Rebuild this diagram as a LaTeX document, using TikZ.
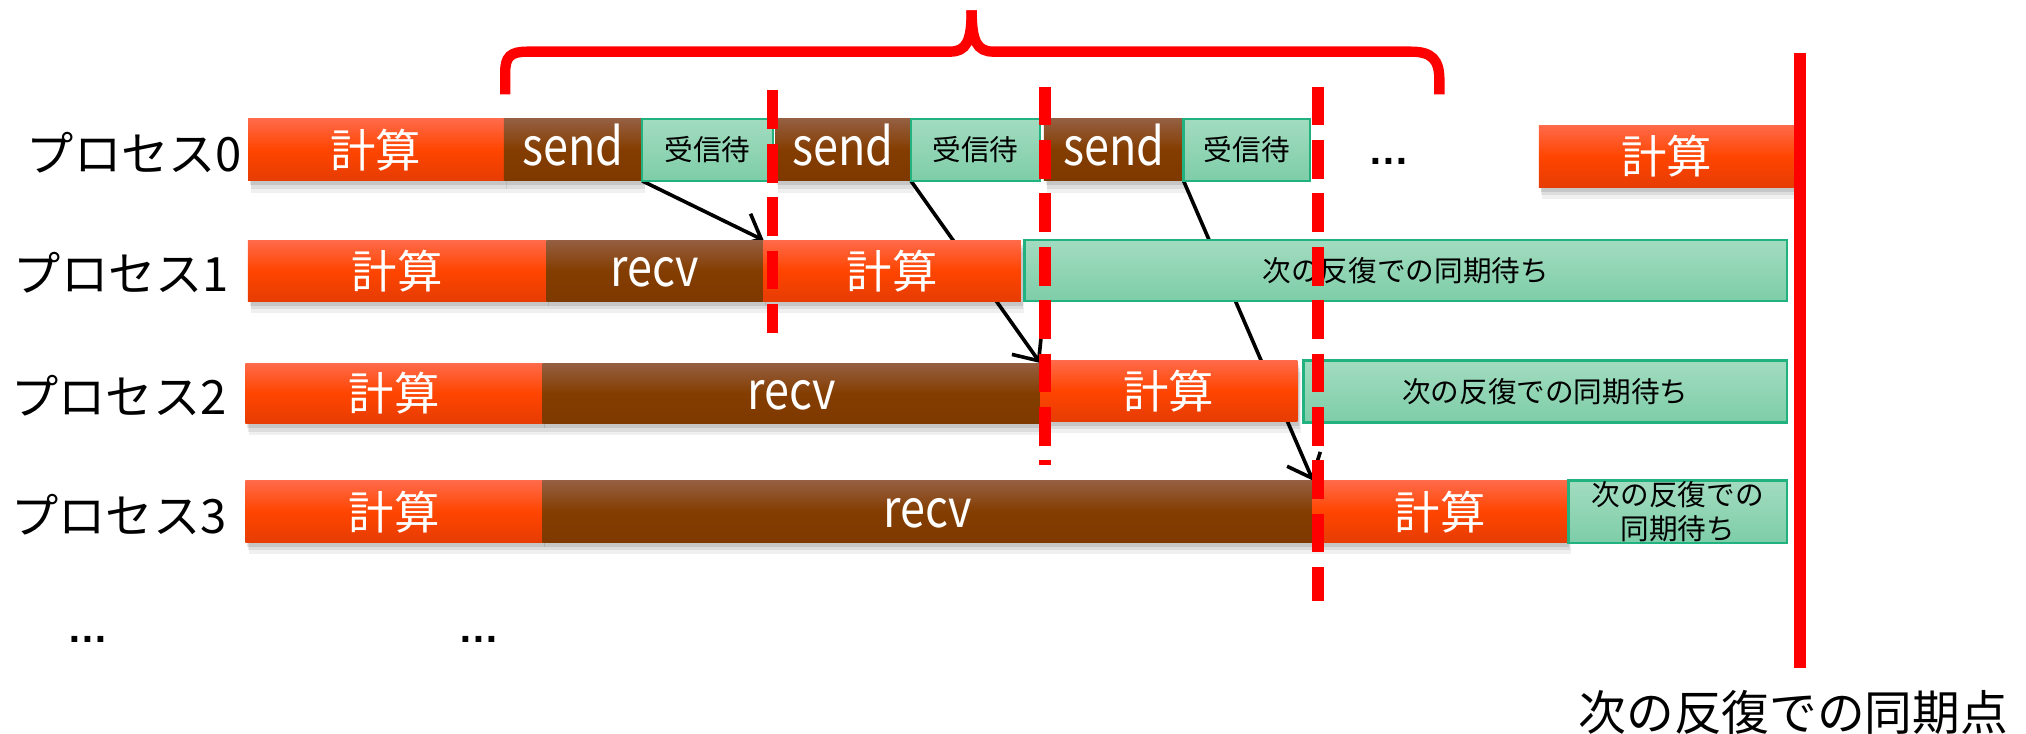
\documentclass[tikz,border=0pt]{standalone}
\usepackage{graphicx}
\usepackage{fontspec}
\setmainfont{Noto Sans CJK JP}
\newfontfamily\latfont{Liberation Sans}
\usetikzlibrary{arrows.meta,shadows}
\pgfdeclarelayer{bg}
\pgfdeclarelayer{msgs}
\pgfsetlayers{bg,msgs,main}
\definecolor{orT}{HTML}{FF6A4A}
\definecolor{orM}{HTML}{FF4500}
\definecolor{orB}{HTML}{E63C04}
\definecolor{brT}{HTML}{955F42}
\definecolor{brM}{HTML}{843D00}
\definecolor{brB}{HTML}{7E3900}
\definecolor{grT}{HTML}{A2DCC0}
\definecolor{grB}{HTML}{7ECDA8}
\definecolor{grD}{HTML}{22B27F}
\definecolor{barred}{HTML}{FF0000}
\newcommand\condtxt[1]{\scalebox{0.86}[1]{#1}}
\tikzset{
  base/.style={rectangle, inner sep=0pt, outer sep=0pt},
  boxshadow/.style={
    drop shadow={shadow xshift=0.25mm, shadow yshift=-0.9mm, opacity=0.06, fill=black},
    drop shadow={shadow xshift=0.2mm, shadow yshift=-0.6mm, opacity=0.08, fill=black},
    drop shadow={shadow xshift=0.15mm, shadow yshift=-0.35mm, opacity=0.10, fill=black}},
  calcbox/.style={base, boxshadow, top color=orT, bottom color=orB, middle color=orM, text=white, font=\fontsize{10}{12}\selectfont},
  commbox/.style={base, boxshadow, top color=brT, bottom color=brB, middle color=brM, text=white, font=\fontsize{11.5}{13}\selectfont, text height=7pt, text depth=0pt},
  waitbox/.style={base, top color=grT, bottom color=grB, draw=grD, line width=0.5pt, text=black, font=\fontsize{6.3}{7.7}\selectfont, align=center},
  plabel/.style={anchor=east, inner sep=0pt, font=\fontsize{10.4}{12}\selectfont},
  dotstext/.style={inner sep=0pt, font=\latfont\bfseries\fontsize{9}{10}\selectfont},
  msg/.style={line width=0.28mm, -{Straight Barb[length=1.6mm,width=2.8mm]}},
  barrier/.style={barred, line width=0.9mm, dash pattern=on 3mm off 1.13mm},
  syncline/.style={barred, line width=0.9mm},
  bracket/.style={barred, line width=0.8mm},
}
\newcommand\procbox[7]{\node[#2, minimum width={(#4-#3)*0.1mm}, minimum height={(#6-#5)*0.1mm}] (#1) at ({(#3+#4)/2},{(#5+#6)/2}) {#7};}
\begin{document}
\begin{tikzpicture}[x=0.01cm,y=-0.01cm]
\begin{pgfonlayer}{bg}
\fill[white] (0,0) rectangle (1568,568);
\end{pgfonlayer}
\useasboundingbox (0,0) rectangle (1568,568);

% labels
\node[plabel] (l0) at (188,118) {プロセス0};
\node[plabel] (l1) at (178,211) {プロセス1};
\node[plabel] (l2) at (176,306) {プロセス2};
\node[plabel] (l3) at (176,398) {プロセス3};
\node[dotstext] (ldots) at (68,495) {…};
\node[dotstext] (bdots) at (371,495) {…};

% row 0
\procbox{r0c}{calcbox}{192}{390}{92}{140}{計算}
\procbox{r0s1}{commbox}{390}{497}{92}{140}{\condtxt{send}}
\procbox{r0w1}{waitbox}{497}{598}{92}{140}{受信待}
\procbox{r0s2}{commbox}{600}{705}{92}{140}{\condtxt{send}}
\procbox{r0w2}{waitbox}{705}{805}{92}{140}{受信待}
\procbox{r0s3}{commbox}{808}{916}{92}{140}{\condtxt{send}}
\procbox{r0w3}{waitbox}{916}{1014}{92}{140}{受信待}
\node[dotstext] (r0dots) at (1075,125) {…};
\procbox{r0c2}{calcbox}{1191}{1389}{97}{145}{計算}

% row 1
\procbox{r1c}{calcbox}{192}{423}{186}{233}{計算}
\procbox{r1r}{commbox}{423}{591}{186}{233}{\condtxt{recv}}
\procbox{r1c2}{calcbox}{591}{790}{186}{233}{計算}
\procbox{r1w}{waitbox}{793}{1383}{186}{233}{次の反復での同期待ち}

% row 2
\procbox{r2c}{calcbox}{190}{420}{281}{328}{計算}
\procbox{r2r}{commbox}{420}{805}{281}{328}{\condtxt{recv}}
\procbox{r2c2}{calcbox}{805}{1004}{279}{326}{計算}
\procbox{r2w}{waitbox}{1009}{1383}{279}{327}{次の反復での同期待ち}

% row 3
\procbox{r3c}{calcbox}{190}{420}{372}{420}{計算}
\procbox{r3r}{commbox}{420}{1016}{372}{420}{\condtxt{recv}}
\procbox{r3c2}{calcbox}{1016}{1213}{372}{420}{計算}
\procbox{r3w}{waitbox}{1214}{1383}{372}{420}{次の反復での\\同期待ち}

% messages (behind boxes)
\begin{pgfonlayer}{msgs}
\draw[msg] (r0s1.south east) -- (r1r.north east);
\draw[msg] (r0s2.south east) -- (r2r.north east);
\draw[msg] (r0s3.south east) -- (r3r.north east);
\end{pgfonlayer}

% barriers
\coordinate (b1t) at (598,70);  \coordinate (b1b) at (598,258);
\coordinate (b2t) at (809,67);  \coordinate (b2b) at (809,360);
\coordinate (b3t) at (1020,67); \coordinate (b3b) at (1020,465);
\draw[barrier] (b1t) -- (b1b);
\draw[barrier] (b2t) -- (b2b);
\draw[barrier] (b3t) -- (b3b);

% next sync point
\coordinate (st) at (1393,41);
\coordinate (sb) at (1393,517);
\draw[syncline] (st) -- (sb);
\node[inner sep=0pt, font=\fontsize{10.5}{12}\selectfont] (synclbl) at (1388,551) {次の反復での同期点};

% brace
\draw[bracket] (391,73) -- (391,56) .. controls (391,44) and (395,40) .. (408,40) -- (735,40) .. controls (748,40) and (752,32) .. (752,8);
\draw[bracket] (752,8) .. controls (752,32) and (756,40) .. (769,40) -- (1092,40) .. controls (1108,40) and (1114,46) .. (1114,62) -- (1114,73);
\end{tikzpicture}
\end{document}
